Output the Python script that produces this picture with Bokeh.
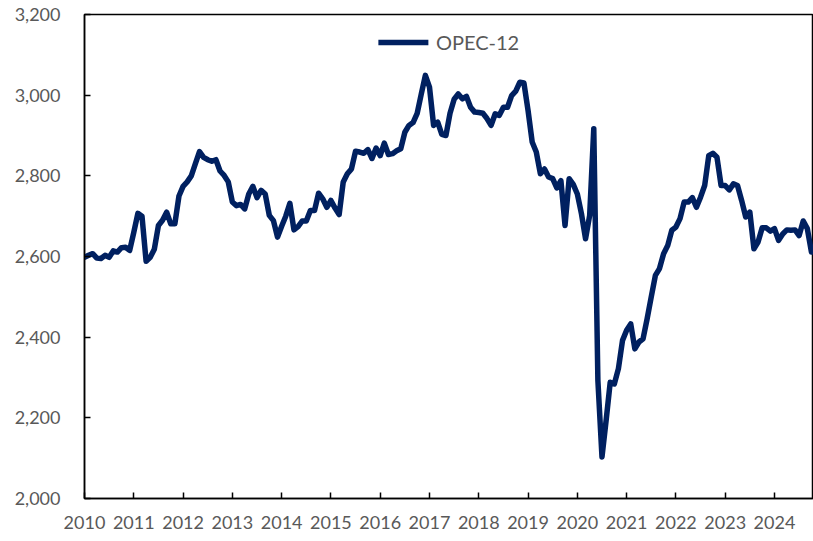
from bokeh.plotting import figure
from bokeh.models import Range1d, FixedTicker, NumeralTickFormatter, Legend, LegendItem, ColumnDataSource
from bokeh.embed import file_html
from bokeh.resources import INLINE

years = [str(y) for y in range(2010, 2025)]
year_ticks = [12 * k for k in range(len(years))]

opec12 = [
    2598, 2603, 2607, 2596, 2595, 2603, 2598, 2614, 2611, 2622, 2623, 2615,
    2660, 2707, 2700, 2588, 2598, 2618, 2677, 2690, 2710, 2681, 2681, 2750,
    2774, 2785, 2800, 2830, 2860, 2846, 2840, 2836, 2840, 2812, 2801, 2785,
    2735, 2726, 2729, 2718, 2755, 2774, 2746, 2764, 2755, 2702, 2689, 2648,
    2675, 2700, 2732, 2666, 2674, 2688, 2688, 2714, 2714, 2757, 2743, 2722,
    2739, 2720, 2704, 2785, 2805, 2817, 2861, 2859, 2856, 2865, 2843, 2869,
    2850, 2881, 2853, 2855, 2862, 2867, 2908, 2925, 2932, 2955, 3003, 3049,
    3020, 2925, 2933, 2903, 2900, 2955, 2990, 3003, 2991, 2997, 2970, 2958,
    2957, 2955, 2942, 2925, 2954, 2950, 2970, 2970, 2999, 3010, 3032, 3030,
    2962, 2884, 2859, 2805, 2817, 2797, 2793, 2770, 2788, 2677, 2793, 2779,
    2755, 2706, 2644, 2702, 2917, 2293, 2103, 2193, 2288, 2284, 2322, 2392,
    2417, 2433, 2371, 2388, 2396, 2446, 2500, 2553, 2570, 2607, 2627, 2665,
    2673, 2694, 2735, 2735, 2746, 2722, 2747, 2776, 2850, 2856, 2846, 2776,
    2776, 2765, 2780, 2776, 2739, 2698, 2710, 2619, 2636, 2671, 2671, 2663,
    2669, 2640, 2656, 2666, 2665, 2666, 2652, 2688, 2669, 2611,
]
months = list(range(len(opec12)))

FONT = "Lato"
GREY = "#595959"
NAVY = "#002060"

p = figure(width=813, height=541, output_backend="svg", toolbar_location=None,
           x_range=Range1d(0, 177.5), y_range=Range1d(2000, 3200),
           min_border_left=84, min_border_top=14, min_border_right=0, min_border_bottom=43)

src = ColumnDataSource(dict(x=months, y=opec12))
r = p.line("x", "y", source=src, line_color=NAVY, line_width=5.5, line_join="round", line_cap="round")

p.grid.visible = False
p.outline_line_color = "black"
p.outline_line_width = 1.5

xa = p.xaxis[0]
xa.ticker = FixedTicker(ticks=year_ticks)
xa.major_label_overrides = {t: y for t, y in zip(year_ticks, years)}
ya = p.yaxis[0]
ya.ticker = FixedTicker(ticks=[2000, 2200, 2400, 2600, 2800, 3000, 3200])
ya.formatter = NumeralTickFormatter(format="0,0")

for ax in (xa, ya):
    ax.axis_line_color = "black"
    ax.axis_line_width = 1.5
    ax.major_tick_line_color = "black"
    ax.major_tick_line_width = 1.5
    ax.major_tick_in = 6
    ax.major_tick_out = 0
    ax.minor_tick_line_color = None
    ax.major_label_text_font = FONT
    ax.major_label_text_font_size = "18px"
    ax.major_label_text_color = GREY
ya.major_label_standoff = 24
xa.major_label_standoff = 17

legend = Legend(items=[LegendItem(label="OPEC-12", renderers=[r])], location="top_center",
                orientation="horizontal", background_fill_alpha=0, border_line_color=None,
                label_text_font=FONT, label_text_font_size="20px", label_text_color=GREY,
                glyph_width=50, label_standoff=8, margin=16, padding=10)
p.add_layout(legend)

open("out.html", "w").write(file_html(p, INLINE))
